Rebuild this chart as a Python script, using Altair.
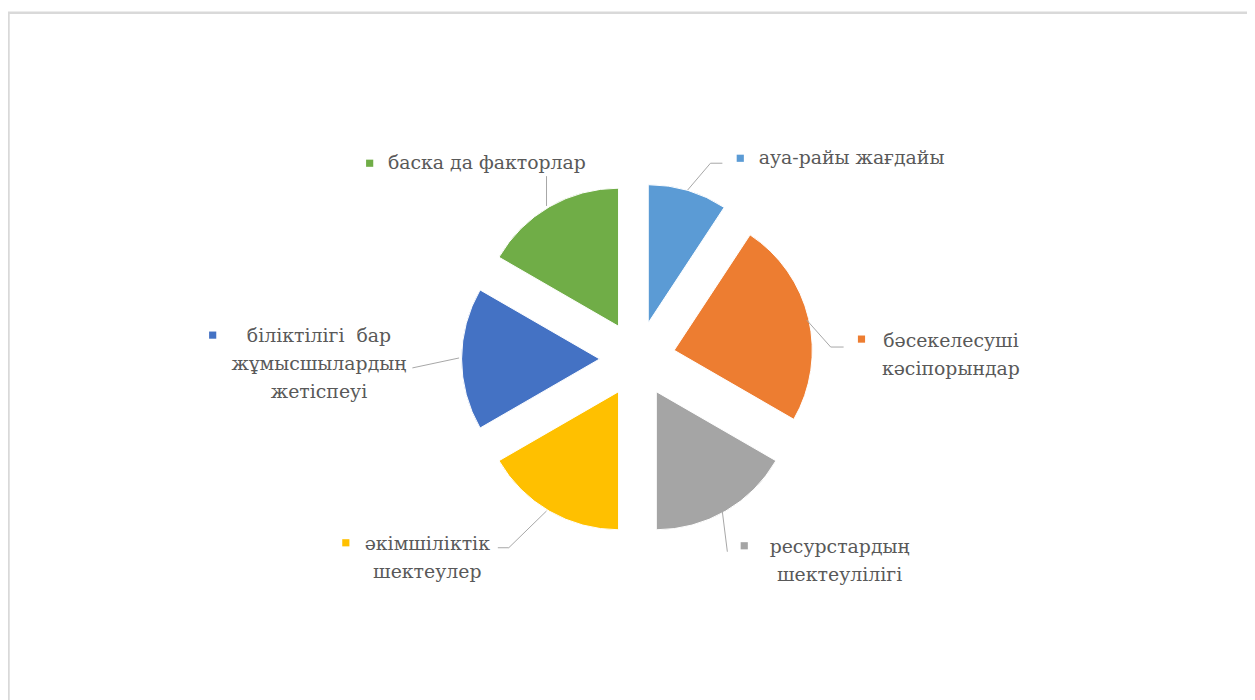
import altair as alt
import pandas as pd

# ---- data ----
categories = [
    "ауа-райы жағдайы",
    "бәсекелесуші кәсіпорындар",
    "ресурстардың шектеулілігі",
    "әкімшіліктік шектеулер",
    "біліктілігі бар жұмысшылардың жетіспеуі",
    "баска да факторлар",
]
values = [5, 13, 9, 9, 9, 9]
label_lines = [
    ["ауа-райы жағдайы"],
    ["бәсекелесуші", "кәсіпорындар"],
    ["ресурстардың", "шектеулілігі"],
    ["әкімшіліктік", "шектеулер"],
    ["біліктілігі\u00a0\u00a0бар", "жұмысшылардың", "жетіспеуі"],
    ["баска да факторлар"],
]
colors = ["#5B9BD5", "#ED7D31", "#A5A5A5", "#FFC000", "#4472C4", "#70AD47"]

# ---- layout (pixels inside the chart) ----
W, H = 1247, 692
CX, CY = 633.5, 351.0
EXPLODE = 38
R = 139
FONT = "DejaVu Serif"
FS = 19
LH = 28
TEXT_COLOR = "#595959"
LEADER_COLOR = "#A6A6A6"

text_anchor = [(849, 149), (949, 333), (837, 540), (422, 537), (313, 328), (482, 154)]
marker_pos = [(737, 149), (859, 331), (741, 539), (340, 536), (206, 327), (364, 154)]
leaders = [
    [(684, 181), (707, 154), (719, 154)],
    [(804, 312), (828, 339), (841, 339)],
    [(719, 505), (724, 545)],
    [(542, 504), (504, 541), (493, 541)],
    [(454, 350), (407, 360)],
    [(542, 197), (542, 167)],
]

slices = pd.DataFrame({"category": categories, "value": values, "idx": range(len(values))})

rows = []
for i, lines in enumerate(label_lines):
    for j, t in enumerate(lines):
        rows.append({"category": categories[i], "text": t,
                     "px": text_anchor[i][0], "py": text_anchor[i][1] + j * LH})
texts = pd.DataFrame(rows)

markers = pd.DataFrame({"category": categories,
                        "px": [m[0] for m in marker_pos],
                        "py": [m[1] for m in marker_pos]})

lrows = []
for i, pts in enumerate(leaders):
    for k, (x, y) in enumerate(pts):
        lrows.append({"id": i, "k": k, "px": x, "py": y})
lead = pd.DataFrame(lrows)

color = alt.Color("category:N", scale=alt.Scale(domain=categories, range=colors), legend=None)

pie = (
    alt.Chart(slices)
    .transform_joinaggregate(total="sum(value)")
    .transform_window(cum="sum(value)", sort=[alt.SortField("idx")], frame=[None, 0])
    .transform_calculate(
        a0="(datum.cum - datum.value) / datum.total * 2 * PI",
        a1="datum.cum / datum.total * 2 * PI",
    )
    .transform_calculate(mid="(datum.a0 + datum.a1) / 2")
    .transform_calculate(
        px=f"{CX} + {EXPLODE} * sin(datum.mid)",
        py=f"{CY} - {EXPLODE} * cos(datum.mid)",
    )
    .mark_arc(outerRadius=R, stroke="white", strokeWidth=1)
    .encode(
        theta=alt.Theta("a0:Q", scale=None),
        theta2="a1:Q",
        x=alt.X("px:Q", scale=None),
        y=alt.Y("py:Q", scale=None),
        color=color,
    )
)

leader_lines = (
    alt.Chart(lead)
    .mark_line(color=LEADER_COLOR, strokeWidth=1)
    .encode(x=alt.X("px:Q", scale=None), y=alt.Y("py:Q", scale=None),
            detail="id:N", order="k:Q")
)

marker_marks = (
    alt.Chart(markers)
    .mark_square(size=52, opacity=1, filled=True)
    .encode(x=alt.X("px:Q", scale=None), y=alt.Y("py:Q", scale=None), color=color)
)

label_marks = (
    alt.Chart(texts)
    .mark_text(font=FONT, fontSize=FS, color=TEXT_COLOR, align="center", baseline="middle")
    .encode(x=alt.X("px:Q", scale=None), y=alt.Y("py:Q", scale=None), text="text:N")
)

frame = (
    alt.Chart(pd.DataFrame({"a": [0]}))
    .mark_rect(fill=None, stroke="#D9D9D9", strokeWidth=2.5)
    .encode(x=alt.value(0.5), x2=alt.value(1400), y=alt.value(2.5), y2=alt.value(900))
)

chart = (
    alt.layer(frame, pie, leader_lines, marker_marks, label_marks)
    .properties(width=W, height=H, padding=0, autosize=alt.AutoSizeParams(type="none"))
    .configure(font=FONT)
    .configure_text(font=FONT)
    .configure_view(stroke=None)
)

chart.save("out.html", embed_options={"renderer": "svg", "actions": False})
